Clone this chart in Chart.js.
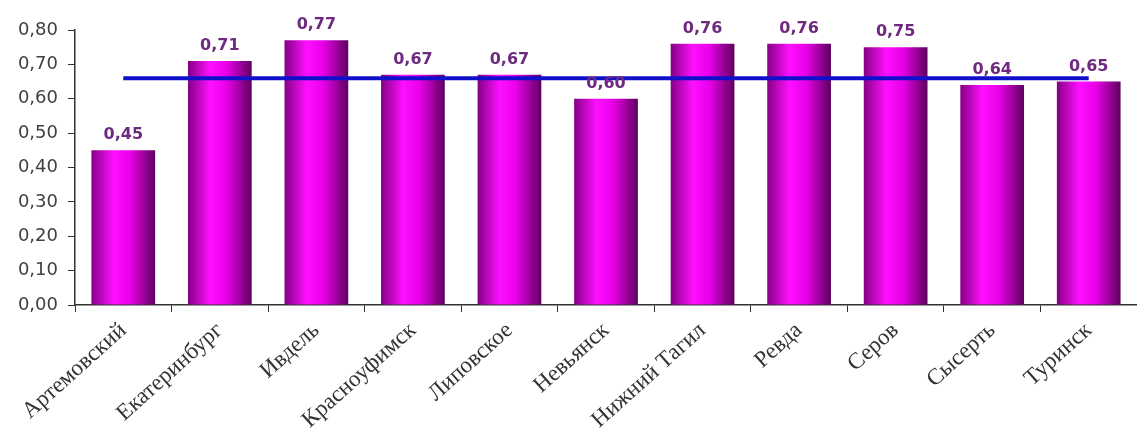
<!DOCTYPE html>
<html>
<head>
<meta charset="utf-8">
<script src="https://cdn.jsdelivr.net/npm/chart.js@4.4.0/dist/chart.umd.min.js"></script>
<style>
  html, body { margin: 0; padding: 0; background: #fff; }
  #wrap { width: 1137px; height: 429px; }
</style>
</head>
<body>
<div id="wrap"><canvas id="grafiek" width="1137" height="429"></canvas></div>
<script>
// Gegevens uit de afbeelding
const steden = ["Артемовский", "Екатеринбург", "Ивдель", "Красноуфимск", "Липовское",
  "Невьянск", "Нижний Тагил", "Ревда", "Серов", "Сысерть", "Туринск"];
const waarden = [0.45, 0.71, 0.77, 0.67, 0.67, 0.60, 0.76, 0.76, 0.75, 0.64, 0.65];
const gemiddelde = [0.66, 0.66, 0.66, 0.66, 0.66, 0.66, 0.66, 0.66, 0.66, 0.66, 0.66];
const yMin = 0;
const yMax = 0.8;
const yStap = 0.1;

const BAR_PCT = 0.66;

function komma(v) {
  return Number(v).toFixed(2).replace(".", ",");
}

// Horizontale gradient per staaf, berekend uit de x-schaal
function staafKleur(ctx) {
  const chart = ctx.chart;
  const x = chart.scales.x;
  if (!chart.chartArea || !x) return "#d000d0";
  const midden = x.getPixelForValue(ctx.dataIndex);
  const breedte = (x.width / steden.length) * BAR_PCT;
  const g = chart.ctx.createLinearGradient(midden - breedte / 2, 0, midden + breedte / 2, 0);
  g.addColorStop(0, "#840084");
  g.addColorStop(0.35, "#ff10ff");
  g.addColorStop(0.6, "#ea00ea");
  g.addColorStop(1, "#5e005e");
  return g;
}

// Waarden boven de staven
const labelsPlugin = {
  id: "waardeLabels",
  afterDatasetsDraw(chart) {
    const meta = chart.getDatasetMeta(1);
    const c = chart.ctx;
    c.save();
    c.font = "bold 16px 'DejaVu Sans', sans-serif";
    c.fillStyle = "#6e2a80";
    c.textAlign = "center";
    c.textBaseline = "bottom";
    meta.data.forEach((bar, i) => {
      c.fillText(komma(waarden[i]), bar.x, bar.y - 7);
    });
    c.restore();
  },
};

new Chart(document.getElementById("grafiek"), {
  data: {
    labels: steden,
    datasets: [
      {
        type: "line",
        data: gemiddelde,
        borderColor: "#1010cc",
        borderWidth: 4,
        pointRadius: 0,
        fill: false,
        order: 0,
      },
      {
        type: "bar",
        data: waarden,
        backgroundColor: staafKleur,
        borderWidth: 0,
        categoryPercentage: 1,
        barPercentage: BAR_PCT,
        order: 1,
      },
    ],
  },
  plugins: [labelsPlugin],
  options: {
    responsive: false,
    animation: false,
    layout: { padding: { top: 30, left: 0, right: 0, bottom: 0 } },
    plugins: {
      legend: { display: false },
      tooltip: { enabled: false },
    },
    scales: {
      x: {
        offset: true,
        afterFit: (s) => { s.height = 124; },
        border: { color: "#333", width: 1.5 },
        grid: { display: true, drawOnChartArea: false, tickLength: 7, color: "#333", offset: true },
        ticks: {
          autoSkip: false,
          maxRotation: 42,
          minRotation: 42,
          color: "#333",
          font: { family: "'Liberation Serif', 'Times New Roman', serif", size: 23 },
          padding: 5,
        },
      },
      y: {
        min: yMin,
        max: yMax,
        afterFit: (s) => { s.width = 75; },
        border: { color: "#333", width: 1.5 },
        grid: { display: true, drawOnChartArea: false, tickLength: 7, color: "#333" },
        ticks: {
          stepSize: yStap,
          color: "#404040",
          padding: 10,
          font: { family: "'DejaVu Sans', sans-serif", size: 18 },
          callback: (v) => komma(v),
        },
      },
    },
  },
});
</script>
</body>
</html>
